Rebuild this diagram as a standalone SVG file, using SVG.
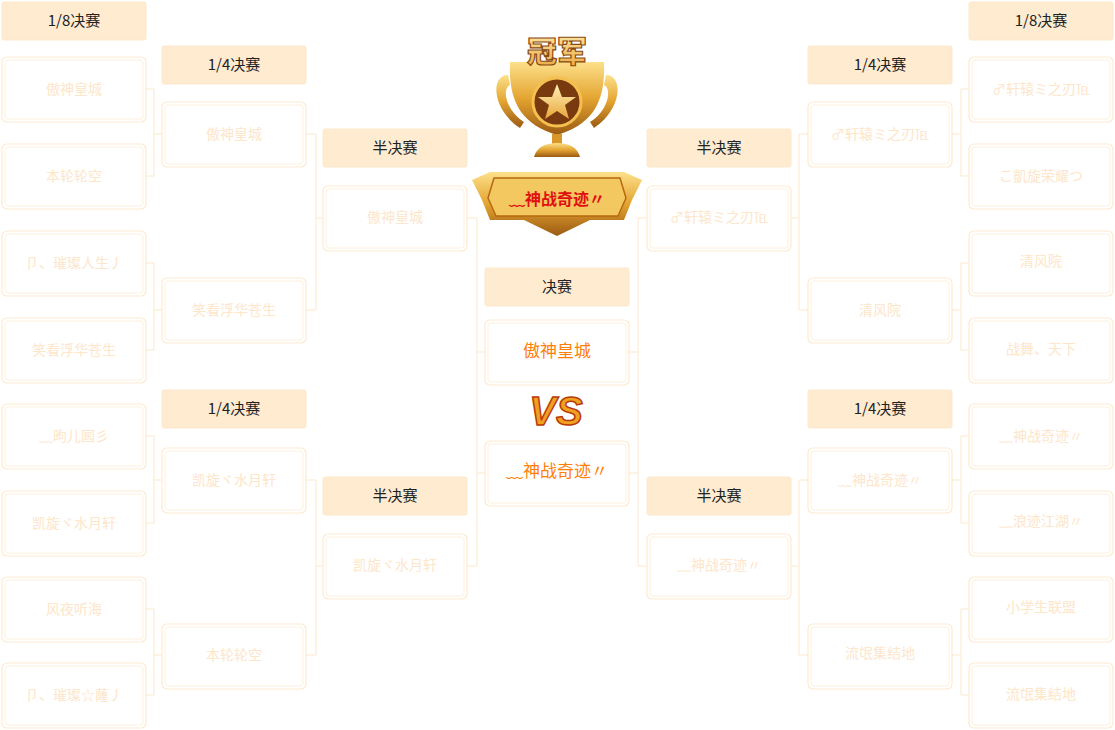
<svg xmlns="http://www.w3.org/2000/svg" width="1115" height="730" viewBox="0 0 1115 730">
<defs>
<style>
.b{fill:#fff;stroke:#fdeacf;stroke-width:1.2}
.bi{fill:none;stroke:#fef0dc;stroke-width:1}
.h{fill:#feebd0;stroke:#fde9cc;stroke-width:1}
.ht{font-family:"Noto Sans CJK SC","Liberation Sans",sans-serif;font-size:15px;fill:#222;text-anchor:middle}
.t{font-family:"Noto Sans CJK SC","Liberation Sans",sans-serif;font-size:14px;fill:#fde6ca;text-anchor:middle}
.ft{font-family:"Noto Sans CJK SC","Liberation Sans",sans-serif;font-size:17px;fill:#ff7f0a;text-anchor:middle}
.c{fill:none;stroke:#fbe8cd;stroke-width:1}
</style>
<linearGradient id="gold" x1="0" y1="0" x2="0" y2="1"><stop offset="0" stop-color="#fde08a"/><stop offset="0.5" stop-color="#e3a431"/><stop offset="1" stop-color="#9b5a12"/></linearGradient>
<linearGradient id="gold2" x1="0" y1="0" x2="0" y2="1"><stop offset="0" stop-color="#fff2b8"/><stop offset="1" stop-color="#e8a53a"/></linearGradient>
<g id="bx"><rect class="b" x="0" y="0" width="144" height="65" rx="5"/><rect class="bi" x="3" y="3" width="138" height="59" rx="3"/></g>
<g id="hd"><rect class="h" x="0" y="0" width="144" height="38" rx="2"/></g>
</defs>
<rect width="1115" height="730" fill="#fff"/>
<g id="connectors">
<path class="c" d="M146 89H154V176H146M154 134H162"/>
<path class="c" d="M146 263H154V350H146M154 310H162"/>
<path class="c" d="M146 436H154V523H146M154 480H162"/>
<path class="c" d="M146 609H154V695H146M154 655H162"/>
<path class="c" d="M306 134H316V310H306M316 218H323"/>
<path class="c" d="M306 480H316V655H306M316 566H323"/>
<path class="c" d="M467 218H477V566H467M477 352H485M477 473H485"/>
<path class="c" d="M969 89H961V176H969M961 134H952"/>
<path class="c" d="M969 263H961V350H969M961 310H952"/>
<path class="c" d="M969 436H961V523H969M961 480H952"/>
<path class="c" d="M969 609H961V695H969M961 655H952"/>
<path class="c" d="M808 134H799V310H808M799 218H791"/>
<path class="c" d="M808 480H799V655H808M799 566H791"/>
<path class="c" d="M647 218H638V566H647M638 352H629M638 473H629"/>
</g>
<g id="headers">
<use href="#hd" x="2" y="2"/><text class="ht" x="74" y="26">1/8决赛</text>
<use href="#hd" x="162" y="46"/><text class="ht" x="234" y="70">1/4决赛</text>
<use href="#hd" x="162" y="390"/><text class="ht" x="234" y="414">1/4决赛</text>
<use href="#hd" x="323" y="129"/><text class="ht" x="395" y="153">半决赛</text>
<use href="#hd" x="323" y="477"/><text class="ht" x="395" y="501">半决赛</text>
<use href="#hd" x="485" y="268"/><text class="ht" x="557" y="292">决赛</text>
<use href="#hd" x="647" y="129"/><text class="ht" x="719" y="153">半决赛</text>
<use href="#hd" x="647" y="477"/><text class="ht" x="719" y="501">半决赛</text>
<use href="#hd" x="808" y="46"/><text class="ht" x="880" y="70">1/4决赛</text>
<use href="#hd" x="808" y="390"/><text class="ht" x="880" y="414">1/4决赛</text>
<use href="#hd" x="969" y="2"/><text class="ht" x="1041" y="26">1/8决赛</text>
</g>
<g id="l8">
<use href="#bx" x="2" y="57"/><text class="t" x="74" y="94">傲神皇城</text>
<use href="#bx" x="2" y="144"/><text class="t" x="74" y="181">本轮轮空</text>
<use href="#bx" x="2" y="231"/><text class="t" x="74" y="268">卩、璀璨人生丿</text>
<use href="#bx" x="2" y="318"/><text class="t" x="74" y="355">笑看浮华苍生</text>
<use href="#bx" x="2" y="404"/><text class="t" x="74" y="441">﹏昫儿囻彡</text>
<use href="#bx" x="2" y="491"/><text class="t" x="74" y="528">凯旋ヾ水月轩</text>
<use href="#bx" x="2" y="577"/><text class="t" x="74" y="614">风夜听海</text>
<use href="#bx" x="2" y="663"/><text class="t" x="74" y="700">卩、璀璨☆蕯丿</text>
</g>
<g id="l4">
<use href="#bx" x="162" y="102"/><text class="t" x="234" y="139">傲神皇城</text>
<use href="#bx" x="162" y="278"/><text class="t" x="234" y="315">笑看浮华苍生</text>
<use href="#bx" x="162" y="448"/><text class="t" x="234" y="485">凯旋ヾ水月轩</text>
<use href="#bx" x="162" y="624"/><text class="t" x="234" y="660">本轮轮空</text>
</g>
<g id="l2">
<use href="#bx" x="323" y="186"/><text class="t" x="395" y="222">傲神皇城</text>
<use href="#bx" x="323" y="534"/><text class="t" x="395" y="570">凯旋ヾ水月轩</text>
</g>
<g id="final">
<use href="#bx" x="485" y="320"/><text class="ft" x="557" y="357">傲神皇城</text>
<use href="#bx" x="485" y="441"/><text class="ft" x="557" y="477">﹏神战奇迹〃</text>
<text x="556" y="425" font-family="Liberation Sans,sans-serif" font-size="40" font-weight="bold" font-style="italic" fill="#f0a020" stroke="#b83a0a" stroke-width="1.5" text-anchor="middle">VS</text>
</g>
<g id="r2">
<use href="#bx" x="647" y="186"/><text class="t" x="719" y="222">♂轩辕ミ之刃℡</text>
<use href="#bx" x="647" y="534"/><text class="t" x="719" y="570">﹏神战奇迹〃</text>
</g>
<g id="r4">
<use href="#bx" x="808" y="102"/><text class="t" x="880" y="139">♂轩辕ミ之刃℡</text>
<use href="#bx" x="808" y="278"/><text class="t" x="880" y="315">清风院</text>
<use href="#bx" x="808" y="448"/><text class="t" x="880" y="485">﹏神战奇迹〃</text>
<use href="#bx" x="808" y="624"/><text class="t" x="880" y="658">流氓集结地</text>
</g>
<g id="r8">
<use href="#bx" x="969" y="57"/><text class="t" x="1041" y="94">♂轩辕ミ之刃℡</text>
<use href="#bx" x="969" y="144"/><text class="t" x="1041" y="181">こ凱旋荣耀つ</text>
<use href="#bx" x="969" y="231"/><text class="t" x="1041" y="266">清风院</text>
<use href="#bx" x="969" y="318"/><text class="t" x="1041" y="354">战舞、天下</text>
<use href="#bx" x="969" y="404"/><text class="t" x="1041" y="441">﹏神战奇迹〃</text>
<use href="#bx" x="969" y="491"/><text class="t" x="1041" y="526">﹏浪迹江湖〃</text>
<use href="#bx" x="969" y="577"/><text class="t" x="1041" y="612">小学生联盟</text>
<use href="#bx" x="969" y="663"/><text class="t" x="1041" y="699">流氓集结地</text>
</g>
<g id="trophy">
<path d="M508 75 C490 75 492 110 520 128 L524 122 C505 110 502 88 510 85Z M606 75 C624 75 622 110 594 128 L590 122 C609 110 612 88 604 85Z" fill="url(#gold)"/>
<path d="M510 62 H604 C606 105 590 125 557 135 C524 125 508 105 510 62Z" fill="url(#gold)"/>
<circle cx="557" cy="102" r="24" fill="#7a3a10" stroke="#f4c050" stroke-width="3"/>
<polygon points="557,84 562,97 576,97 565,105 569,119 557,111 545,119 549,105 538,97 552,97" fill="url(#gold2)"/>
<rect x="552" y="134" width="10" height="10" fill="#d9962a"/>
<path d="M534 157 Q538 143 557 143 Q576 143 580 157Z" fill="url(#gold)"/>
<text x="557" y="62" font-family="Noto Sans CJK SC,sans-serif" font-size="30" font-weight="900" fill="url(#gold2)" stroke="#8a4a10" stroke-width="1.2" text-anchor="middle">冠军</text>
<path d="M472 180 L490 172 H624 L642 180 L632 200 L624 220 H590 L557 236 L524 220 H490 L482 200Z" fill="url(#gold)"/>
<path d="M494 178 H620 L626 198 L618 216 H496 L488 198Z" fill="#f3c860" stroke="#b56a10" stroke-width="1.5"/>
<text x="557" y="205" font-family="Noto Sans CJK SC,sans-serif" font-size="16" font-weight="bold" fill="#e01010" text-anchor="middle">﹏神战奇迹〃</text>
</g>
</svg>
